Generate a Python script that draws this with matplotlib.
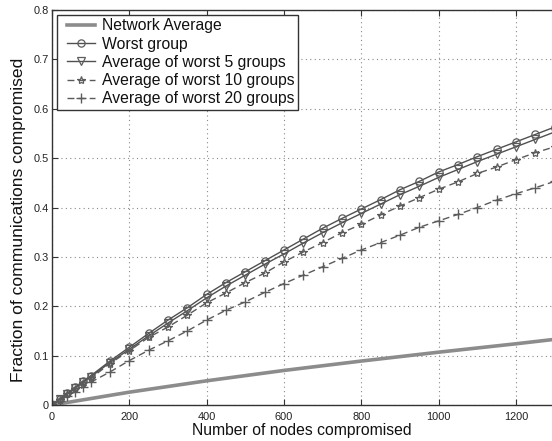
import matplotlib
matplotlib.use("Agg")
import matplotlib.pyplot as plt
from matplotlib.lines import Line2D
from matplotlib.legend_handler import HandlerLine2D

plt.rcParams['font.family'] = ['Liberation Sans', 'DejaVu Sans']

x_nodes = [0, 20, 40, 60, 80, 100, 150, 200, 250, 300, 350, 400, 450, 500, 550, 600,
           650, 700, 750, 800, 850, 900, 950, 1000, 1050, 1100, 1150, 1200, 1250, 1300]

network_x = [0, 100, 200, 400, 600, 800, 1000, 1200, 1300]
network_avg = [0, 0.013, 0.026, 0.049, 0.070, 0.089, 0.107, 0.124, 0.133]

worst_group = [0, 0.012, 0.024, 0.036, 0.048, 0.059, 0.089, 0.117, 0.145, 0.172, 0.197,
               0.224, 0.248, 0.270, 0.292, 0.314, 0.336, 0.358, 0.378, 0.397, 0.416,
               0.436, 0.453, 0.472, 0.487, 0.503, 0.518, 0.533, 0.548, 0.563]
worst5 = [0, 0.012, 0.023, 0.035, 0.046, 0.057, 0.086, 0.113, 0.140, 0.166, 0.191,
          0.217, 0.241, 0.263, 0.285, 0.306, 0.328, 0.349, 0.369, 0.388, 0.407,
          0.426, 0.443, 0.461, 0.477, 0.493, 0.508, 0.523, 0.538, 0.553]
worst10 = [0, 0.011, 0.022, 0.033, 0.044, 0.054, 0.084, 0.110, 0.137, 0.158, 0.182,
           0.207, 0.227, 0.248, 0.267, 0.290, 0.310, 0.329, 0.349, 0.366, 0.385,
           0.403, 0.420, 0.437, 0.452, 0.469, 0.482, 0.497, 0.511, 0.523]
worst20 = [0, 0.009, 0.018, 0.027, 0.036, 0.046, 0.067, 0.090, 0.111, 0.130, 0.150,
           0.172, 0.192, 0.209, 0.228, 0.246, 0.263, 0.280, 0.297, 0.314, 0.329,
           0.344, 0.360, 0.373, 0.386, 0.400, 0.415, 0.428, 0.440, 0.453]

labels = ["Network Average", "Worst group", "Average of worst 5 groups",
          "Average of worst 10 groups", "Average of worst 20 groups"]
x_ticks = [0, 200, 400, 600, 800, 1000, 1200]
y_ticks = [0, 0.1, 0.2, 0.3, 0.4, 0.5, 0.6, 0.7, 0.8]
y_ticklabels = ["0", "0.1", "0.2", "0.3", "0.4", "0.5", "0.6", "0.7", "0.8"]

fig = plt.figure(figsize=(5.52, 4.41), dpi=100)
ax = fig.add_axes([52/552, 36/441, 500/552, 395/441])

dark = '#505050'
mk = '#5c5c5c'
ax.plot(network_x, network_avg, color='#8c8c8c', lw=2.6, label=labels[0])
ax.plot(x_nodes, worst_group, color=dark, lw=1.0, marker='o', ms=5.2,
        mfc='none', mec=mk, mew=0.9, label=labels[1])
ax.plot(x_nodes, worst5, color=dark, lw=1.0, marker='v', ms=5.2,
        mfc='none', mec=mk, mew=0.9, label=labels[2])
ax.plot(x_nodes, worst10, color='#5a5a5a', lw=1.0, ls=(0, (5, 3)), marker='*', ms=6,
        mfc='none', mec=mk, mew=0.9, label=labels[3])
ax.plot(x_nodes, worst20, color='#5a5a5a', lw=1.0, ls=(0, (5, 3)), marker='+', ms=6.5,
        mec=mk, mew=1.0, label=labels[4])

ax.set_xlim(0, 1293)
ax.set_ylim(0, 0.8)
ax.set_xticks(x_ticks)
ax.set_yticks(y_ticks)
ax.set_yticklabels(y_ticklabels)
ax.grid(True, ls=(0, (1, 3)), color='#8a8a8a', lw=0.8)
ax.tick_params(direction='in', top=True, right=False, labelsize=7.9, length=4,
               color='#333333', labelcolor='#222222')
ax.tick_params(axis='x', pad=5)
ax.tick_params(axis='y', pad=2)
for s in ['left', 'bottom', 'top']:
    ax.spines[s].set_color('#333333')
    ax.spines[s].set_linewidth(1.0)
ax.spines['right'].set_visible(False)

ax.set_xlabel("Number of nodes compromised", fontsize=11.3, labelpad=1,
              color='#111111')
ax.set_ylabel("Fraction of communications compromised", fontsize=12.6,
              color='#111111')
ax.yaxis.set_label_coords(-0.052, 0.468)

leg = ax.legend(loc='upper left', bbox_to_anchor=(0.01, 0.987), fontsize=11.3,
                frameon=True, fancybox=False, framealpha=1, edgecolor='#333333',
                borderpad=0.2, labelspacing=0.21, handlelength=2.22,
                handletextpad=0.45, borderaxespad=0.0,
                handler_map={Line2D: HandlerLine2D(xpad=0.43)})
leg.get_frame().set_linewidth(1.0)
for t in leg.get_texts():
    t.set_color('#111111')

fig.savefig("out.png", dpi=100)
